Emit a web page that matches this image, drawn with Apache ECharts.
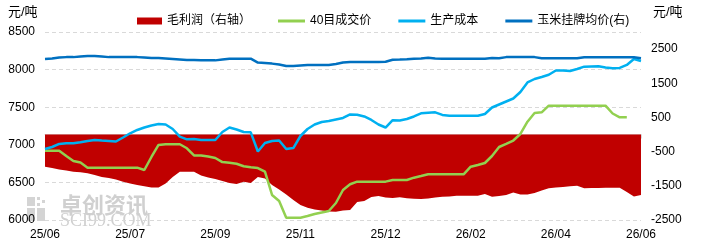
<!DOCTYPE html>
<html>
<head>
<meta charset="utf-8">
<script src="https://cdn.jsdelivr.net/npm/echarts@6/dist/echarts.min.js"></script>
<style>
  html, body { margin: 0; padding: 0; background: #fff; }
  #chart { width: 702px; height: 251px; }
</style>
</head>
<body>
<div id="chart"></div>
<script>
// x轴刻度标签（每12个点一个）
const tickLabels = ['25/06', '25/07', '25/09', '25/11', '25/12', '26/02', '26/04', '26/06']
const step = 12

// 毛利润（右轴）
const profit = [
  -942, -980, -1024, -1053, -1088, -1106, -1135, -1185, -1244, -1273,
  -1317, -1381, -1434, -1478, -1516, -1551, -1551, -1434, -1244, -1088,
  -1088, -1088, -1200, -1258, -1302, -1361, -1419, -1448, -1381, -1419,
  -1244, -1287, -1478, -1609, -1756, -1917, -2063, -2142, -2195, -2224,
  -2253, -2259, -2224, -2209, -1975, -1946, -1829, -1800, -1843, -1858,
  -1838, -1867, -1878, -1887, -1873, -1843, -1820, -1814, -1791, -1791,
  -1791, -1791, -1741, -1820, -1800, -1770, -1697, -1756, -1756, -1712,
  -1639, -1574, -1551, -1536, -1516, -1498, -1574, -1565, -1565, -1557,
  -1557, -1557, -1682, -1814, -1770
]
// 40目成交价
const price40 = [
  6922, 6922, 6922, 6851, 6785, 6765, 6696, 6696, 6696, 6696,
  6696, 6696, 6696, 6696, 6665, 6838, 6998, 7007, 7007, 7007,
  6954, 6858, 6858, 6845, 6825, 6770, 6762, 6748, 6715, 6702,
  6691, 6642, 6333, 6253, 6031, 6031, 6031, 6053, 6080, 6100,
  6120, 6226, 6399, 6475, 6510, 6510, 6510, 6510, 6510, 6532,
  6532, 6532, 6563, 6585, 6608, 6608, 6608, 6608, 6608, 6608,
  6709, 6731, 6758, 6851, 6971, 7011, 7057, 7144, 7307, 7423,
  7432, 7520, 7520, 7520, 7520, 7520, 7520, 7520, 7520, 7520,
  7416, 7366, 7366, null, null
]
// 生产成本
const cost = [
  6944, 6971, 7011, 7020, 7020, 7033, 7051, 7064, 7057, 7051,
  7044, 7097, 7153, 7197, 7230, 7257, 7277, 7270, 7210, 7108,
  7073, 7077, 7064, 7064, 7064, 7170, 7230, 7204, 7170, 7166,
  6911, 7024, 7051, 7057, 6944, 6957, 7117, 7210, 7270, 7303,
  7317, 7337, 7357, 7403, 7399, 7377, 7330, 7270, 7230, 7327,
  7322, 7343, 7377, 7419, 7426, 7432, 7397, 7387, 7387, 7387,
  7387, 7387, 7410, 7496, 7536, 7576, 7616, 7702, 7829, 7875,
  7902, 7931, 7988, 7988, 7982, 8008, 8039, 8042, 8045, 8028,
  8018, 8022, 8062, 8141, 8115
]
// 玉米挂牌均价(右)
const corn = [
  2210, 2225, 2255, 2265, 2265, 2280, 2295, 2295, 2280, 2265,
  2265, 2265, 2265, 2265, 2255, 2240, 2240, 2225, 2210, 2195,
  2180, 2180, 2170, 2170, 2170, 2195, 2220, 2220, 2220, 2220,
  2105, 2090, 2075, 2050, 2005, 2005, 2020, 2035, 2035, 2035,
  2035, 2065, 2105, 2120, 2120, 2120, 2120, 2120, 2130, 2190,
  2195, 2205, 2220, 2225, 2245, 2225, 2220, 2220, 2220, 2220,
  2220, 2220, 2220, 2240, 2230, 2265, 2265, 2265, 2265, 2265,
  2230, 2230, 2230, 2230, 2230, 2230, 2260, 2260, 2260, 2260,
  2260, 2260, 2260, 2260, 2230
]

const categories = profit.map((v, i) => String(i))

const chart = echarts.init(document.getElementById('chart'))
const font = "'Liberation Sans', 'Noto Sans CJK SC', sans-serif"

chart.setOption({
  animation: false,
  textStyle: { fontFamily: font },
  grid: { left: 45, right: 61, top: 32, bottom: 31 },
  legend: [
    {
      left: 132, top: 10,
      itemWidth: 25, itemHeight: 7, icon: 'rect',
      textStyle: { fontSize: 12, color: '#000', fontFamily: font },
      data: ['毛利润（右轴）']
    },
    {
      left: 273, top: 10,
      itemWidth: 27, itemHeight: 3, itemGap: 27, icon: 'rect',
      textStyle: { fontSize: 12, color: '#000', fontFamily: font },
      data: ['40目成交价', '生产成本', '玉米挂牌均价(右)']
    }
  ],
  graphic: [
    { type: 'text', left: 8, top: 6, style: { text: '元/吨', fontSize: 13, fill: '#000', fontFamily: font } },
    { type: 'text', left: 653, top: 6, style: { text: '元/吨', fontSize: 13, fill: '#000', fontFamily: font } },
    // 水印
    { type: 'rect', z: -1, shape: { x: 27, y: 197, width: 8, height: 9 }, style: { fill: '#d4d4d4' } },
    { type: 'rect', z: -1, shape: { x: 27, y: 208, width: 8, height: 13 }, style: { fill: '#d4d4d4' } },
    { type: 'rect', z: -1, shape: { x: 37, y: 208, width: 8, height: 13 }, style: { fill: '#d4d4d4' } },
    { type: 'rect', z: -1, shape: { x: 37, y: 197, width: 3, height: 3 }, style: { fill: '#d4d4d4' } },
    { type: 'rect', z: -1, shape: { x: 42, y: 200, width: 3, height: 3 }, style: { fill: '#d4d4d4' } },
    { type: 'rect', z: -1, shape: { x: 37, y: 203, width: 3, height: 3 }, style: { fill: '#d4d4d4' } },
    { type: 'text', z: -1, left: 60, top: 194, style: { text: '卓创资讯', fontSize: 22, fontWeight: 'bold', fill: '#d0d0d0', fontFamily: "'Noto Sans CJK SC'" } },
    { type: 'text', z: -1, left: 60, top: 212, style: { text: 'SCI99.COM', fontSize: 18, fill: '#d0d0d0', fontFamily: "'Liberation Serif', serif" } }
  ],
  xAxis: {
    type: 'category',
    boundaryGap: false,
    data: categories,
    axisLine: { lineStyle: { color: '#d9d9d9' } },
    axisTick: { interval: step - 1, length: 4, lineStyle: { color: '#d9d9d9' } },
    axisLabel: {
      interval: step - 1, margin: 9, fontSize: 12, color: '#000',
      formatter: (v, i) => tickLabels[i / step] || ''
    },
    splitLine: { show: false }
  },
  yAxis: [
    {
      type: 'value', min: 6000, max: 8500, interval: 500,
      axisLine: { show: false }, axisTick: { show: false },
      axisLabel: { fontSize: 12, color: '#000', margin: 10, formatter: v => String(v) },
      splitLine: { lineStyle: { color: '#d9d9d9', type: [4, 3] } }
    },
    {
      type: 'value', min: -2500, max: 3000, interval: 1000,
      axisLine: { show: false }, axisTick: { show: false },
      axisLabel: { fontSize: 12, color: '#000', margin: 10, showMaxLabel: false, formatter: v => String(v) },
      splitLine: { show: false }
    }
  ],
  series: [
    {
      name: '毛利润（右轴）', type: 'line', yAxisIndex: 1,
      data: profit, symbol: 'none',
      itemStyle: { color: '#c00000' },
      lineStyle: { width: 0 },
      areaStyle: { color: '#c00000', opacity: 1 }
    },
    {
      name: '40目成交价', type: 'line', yAxisIndex: 0,
      data: price40, symbol: 'none',
      itemStyle: { color: '#92d050' },
      lineStyle: { width: 2.5, color: '#92d050' }
    },
    {
      name: '生产成本', type: 'line', yAxisIndex: 0,
      data: cost, symbol: 'none',
      itemStyle: { color: '#00b0f0' },
      lineStyle: { width: 2.5, color: '#00b0f0' }
    },
    {
      name: '玉米挂牌均价(右)', type: 'line', yAxisIndex: 1,
      data: corn, symbol: 'none',
      itemStyle: { color: '#0070c0' },
      lineStyle: { width: 2.5, color: '#0070c0' }
    }
  ]
})
</script>
</body>
</html>
